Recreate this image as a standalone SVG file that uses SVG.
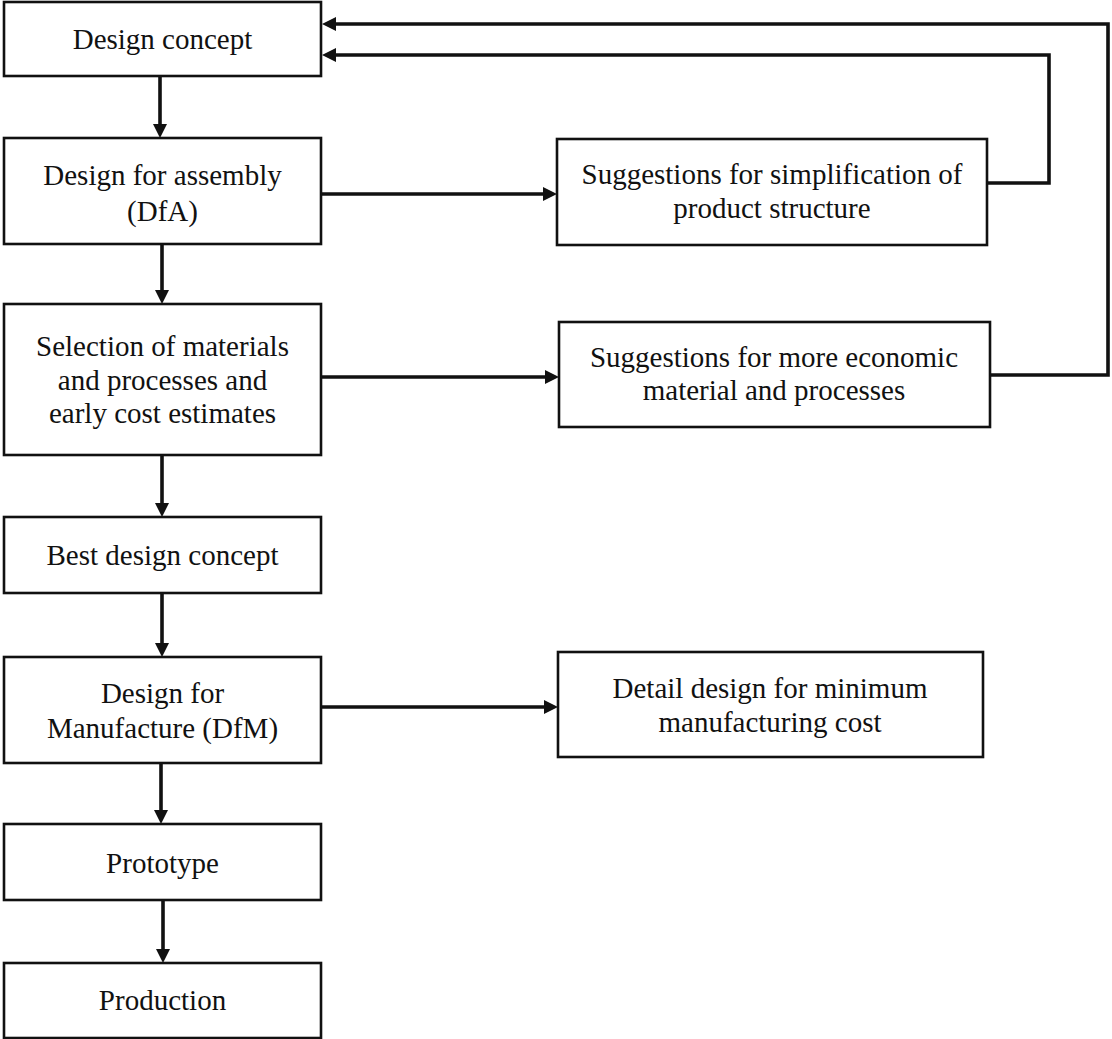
<svg xmlns="http://www.w3.org/2000/svg" width="1112" height="1039" viewBox="0 0 1112 1039">
<style>
.box{fill:#fff;stroke:#111;stroke-width:2.6}
.t{font-family:"Liberation Serif","Times New Roman",serif;font-size:29px;fill:#111;text-anchor:middle}
.c{fill:none;stroke:#111;stroke-width:3.6}
</style>
<defs>
<marker id="ah" viewBox="0 0 14 14" refX="6" refY="7" markerWidth="14" markerHeight="14" markerUnits="userSpaceOnUse" orient="auto">
<path d="M0,0 L14,7 L0,14 z" fill="#111"/>
</marker>
</defs>
<rect width="1112" height="1039" fill="#fff"/>
<g id="connectors">
<path class="c" d="M160,76 V130" marker-end="url(#ah)"/>
<path class="c" d="M162,244 V296" marker-end="url(#ah)"/>
<path class="c" d="M162,455 V509" marker-end="url(#ah)"/>
<path class="c" d="M162,593 V649" marker-end="url(#ah)"/>
<path class="c" d="M161,763 V816" marker-end="url(#ah)"/>
<path class="c" d="M163,900 V955" marker-end="url(#ah)"/>
<path class="c" d="M321,194 H549" marker-end="url(#ah)"/>
<path class="c" d="M321,377 H551" marker-end="url(#ah)"/>
<path class="c" d="M320,707 H550" marker-end="url(#ah)"/>
<path class="c" d="M987,183 H1049 V55 H330" marker-end="url(#ah)"/>
<path class="c" d="M990,375 H1108 V24 H330" marker-end="url(#ah)"/>
</g>
<g id="n1"><rect class="box" x="4" y="2" width="317" height="74"/><text class="t" x="162.5" y="49">Design concept</text></g>
<g id="n2"><rect class="box" x="4" y="138" width="317" height="106"/><text class="t" x="162.5" y="185">Design for assembly</text><text class="t" x="162.5" y="221">(DfA)</text></g>
<g id="n3"><rect class="box" x="4" y="304" width="317" height="151"/><text class="t" x="162.5" y="356">Selection of materials</text><text class="t" x="162.5" y="390">and processes and</text><text class="t" x="162.5" y="423">early cost estimates</text></g>
<g id="n4"><rect class="box" x="4" y="517" width="317" height="76"/><text class="t" x="162.5" y="565">Best design concept</text></g>
<g id="n5"><rect class="box" x="4" y="657" width="317" height="106"/><text class="t" x="162.5" y="703">Design for</text><text class="t" x="162.5" y="738">Manufacture (DfM)</text></g>
<g id="n6"><rect class="box" x="4" y="824" width="317" height="76"/><text class="t" x="162.5" y="873">Prototype</text></g>
<g id="n7"><rect class="box" x="4" y="963" width="317" height="75"/><text class="t" x="162.5" y="1010">Production</text></g>
<g id="n8"><rect class="box" x="557" y="139" width="430" height="106"/><text class="t" x="772" y="184">Suggestions for simplification of</text><text class="t" x="772" y="218">product structure</text></g>
<g id="n9"><rect class="box" x="559" y="322" width="431" height="105"/><text class="t" x="774" y="367">Suggestions for more economic</text><text class="t" x="774" y="400">material and processes</text></g>
<g id="n10"><rect class="box" x="558" y="652" width="425" height="105"/><text class="t" x="770" y="698">Detail design for minimum</text><text class="t" x="770" y="732">manufacturing cost</text></g>
</svg>
